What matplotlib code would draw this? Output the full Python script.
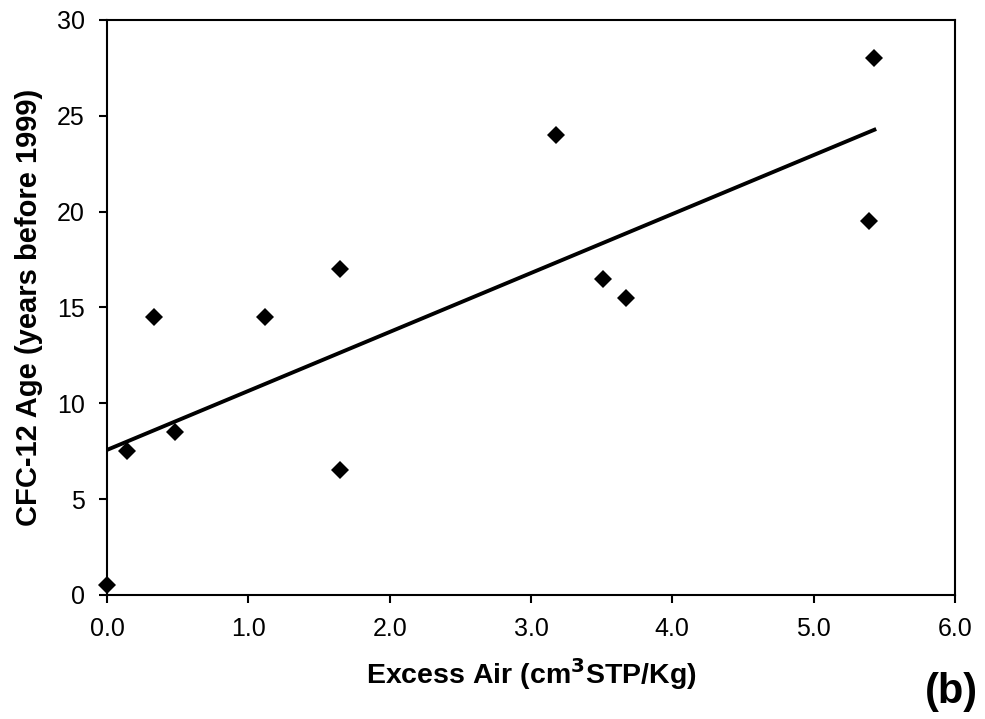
import numpy as np
import matplotlib
matplotlib.use("Agg")
import matplotlib.pyplot as plt

plt.rcParams['font.family'] = ['Liberation Sans', 'DejaVu Sans']

# excess air vs CFC-12 age
excess_air = [0.0, 0.14, 0.33, 0.48, 1.12, 1.65, 1.65, 3.18, 3.51, 3.67, 5.39, 5.43]
cfc12_age = [0.5, 7.5, 14.5, 8.5, 14.5, 17.0, 6.5, 24.0, 16.5, 15.5, 19.5, 28.0]

x_ticks = [0, 1, 2, 3, 4, 5, 6]
y_ticks = [0, 5, 10, 15, 20, 25, 30]

fig = plt.figure(figsize=(9.85, 7.19), dpi=100)
ax = fig.add_axes([0.1086, 0.1725, 0.8609, 0.7997])

ax.plot(excess_air, cfc12_age, linestyle='none', marker='D', markersize=9,
        color='black', markeredgewidth=0, clip_on=False, zorder=3)

# linear trend line
slope, intercept = np.polyfit(excess_air, cfc12_age, 1)
xs = np.array([0, max(excess_air)])
ax.plot(xs, slope * xs + intercept, color='black', linewidth=2.8)

ax.set_xlim(0, 6)
ax.set_ylim(0, 30)
ax.set_xticks(x_ticks)
ax.set_xticklabels([f"{v:.1f}" for v in x_ticks])
ax.set_yticks(y_ticks)

for s in ax.spines.values():
    s.set_linewidth(1.5)
ax.tick_params(direction='out', length=6, width=1.5, labelsize=18, pad=10)

ax.set_xlabel('Excess Air (cm$^\\mathbf{3}$STP/Kg)', fontsize=20.5, fontweight='bold', labelpad=11)
ax.set_ylabel('CFC-12 Age (years before 1999)', fontsize=21, fontweight='bold', labelpad=10)

fig.text(0.993, 0.01, '(b)', fontsize=30, fontweight='bold', ha='right', va='bottom')

fig.savefig('out.png', dpi=100)
